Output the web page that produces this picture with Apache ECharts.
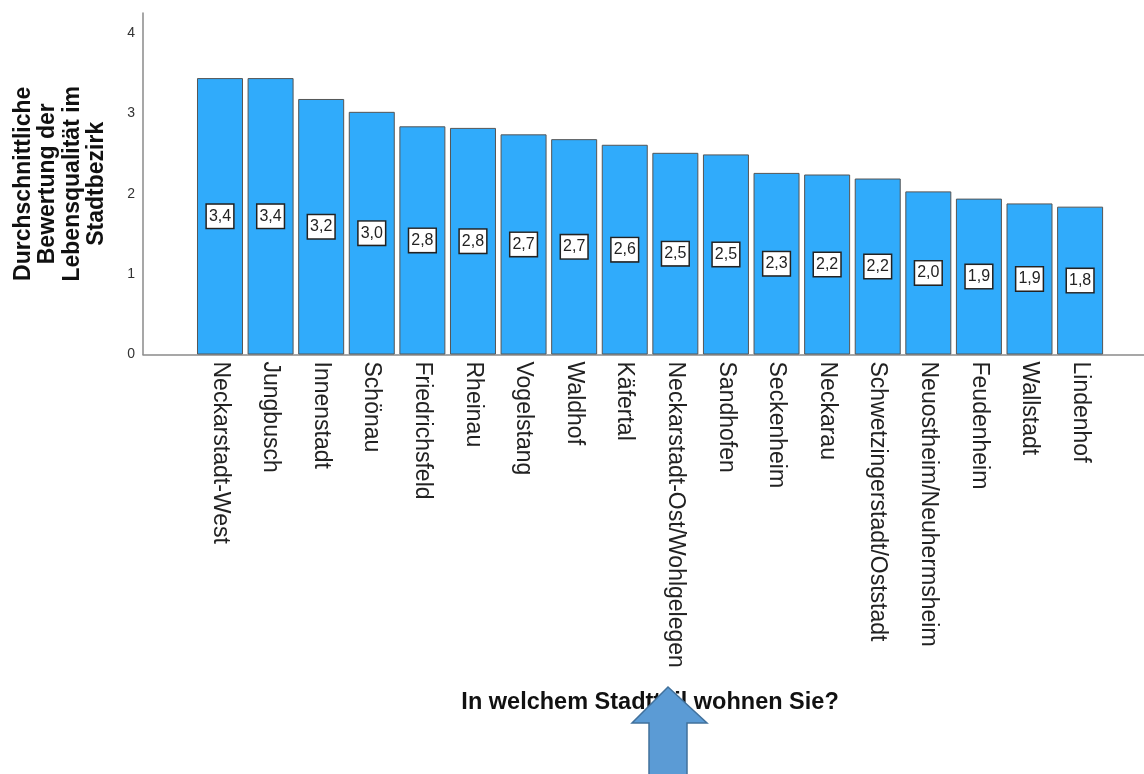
<!DOCTYPE html>
<html>
<head>
<meta charset="utf-8">
<script src="https://cdn.jsdelivr.net/npm/echarts@6/dist/echarts.min.js"></script>
<style>
html,body{margin:0;padding:0;background:#fff;}
#chart{width:1144px;height:774px;}
</style>
</head>
<body>
<div id="chart"></div>
<script>
const categories = ['Neckarstadt-West','Jungbusch','Innenstadt','Schönau','Friedrichsfeld','Rheinau','Vogelstang','Waldhof','Käfertal','Neckarstadt-Ost/Wohlgelegen','Sandhofen','Seckenheim','Neckarau','Schwetzingerstadt/Oststadt','Neuostheim/Neuhermsheim','Feudenheim','Wallstadt','Lindenhof'];
const values = [3.44,3.44,3.18,3.02,2.84,2.82,2.74,2.68,2.61,2.51,2.49,2.26,2.24,2.19,2.03,1.94,1.88,1.84];
const yTicks = [0,1,2,3,4];
const yTitle = 'Durchschnittliche\nBewertung der\nLebensqualität im\nStadtbezirk';
const xTitle = 'In welchem Stadtteil wohnen Sie?';

const FONT = '"Liberation Sans", Arial, sans-serif';
const chart = echarts.init(document.getElementById('chart'), null, {renderer:'canvas'});
const TOP = 13, BOTTOM = 419.5, YMAX = 4.25;

chart.setOption({
  animation: false,
  backgroundColor: '#fff',
  grid: [
    {left: 194.7, right: 38.6, top: TOP, bottom: BOTTOM, containLabel: false},
    {left: 143, right: 0, top: TOP, bottom: BOTTOM, containLabel: false}
  ],
  xAxis: [
    {
      type: 'category', gridIndex: 0, data: categories,
      axisLine: {show: false}, axisTick: {show: false},
      axisLabel: {rotate: -90, fontSize: 23, color: '#222', fontFamily: FONT, margin: 7, interval: 0},
      name: xTitle, nameLocation: 'middle', nameGap: 336,
      nameTextStyle: {fontSize: 23.5, fontWeight: 'bold', color: '#111', fontFamily: FONT}
    },
    {
      type: 'value', gridIndex: 1, min: 0, max: 1,
      axisLine: {show: true, lineStyle: {color: '#8a8a8a', width: 1.5}},
      axisTick: {show: false}, axisLabel: {show: false}, splitLine: {show: false}
    }
  ],
  yAxis: [
    {
      type: 'value', gridIndex: 0, min: 0, max: YMAX,
      show: false, splitLine: {show: false}
    },
    {
      type: 'value', gridIndex: 1, min: 0, max: YMAX, interval: 1,
      axisLine: {show: true, lineStyle: {color: '#8a8a8a', width: 1.5}},
      axisTick: {show: false}, splitLine: {show: false},
      axisLabel: {
        fontSize: 14, color: '#333', fontFamily: FONT, margin: 8,
        formatter: v => yTicks.indexOf(v) >= 0 ? String(v) : ''
      },
      name: yTitle, nameLocation: 'middle', nameGap: 34, nameRotate: 90,
      nameTextStyle: {fontSize: 23, fontWeight: 'bold', color: '#111', fontFamily: FONT, lineHeight: 24.5, align: 'center'}
    }
  ],
  series: [{
    type: 'bar', xAxisIndex: 0, yAxisIndex: 0,
    data: values, barWidth: 46,
    itemStyle: {color: '#30abfb', borderColor: '#555', borderWidth: 1},
    label: {
      show: true, position: 'inside',
      formatter: p => p.value.toFixed(1).replace('.', ','),
      fontSize: 16, color: '#222', fontFamily: FONT,
      backgroundColor: '#fff', borderColor: '#222', borderWidth: 1.5,
      padding: [4, 2, 3, 2]
    }
  }],
  graphic: [{
    type: 'polygon',
    shape: {points: [[668,687],[707,723],[687,723],[687,775],[649,775],[649,723],[632,723]]},
    style: {fill: '#5b9bd5', stroke: '#41719c', lineWidth: 1.5},
    z: 100
  }]
});
</script>
</body>
</html>
